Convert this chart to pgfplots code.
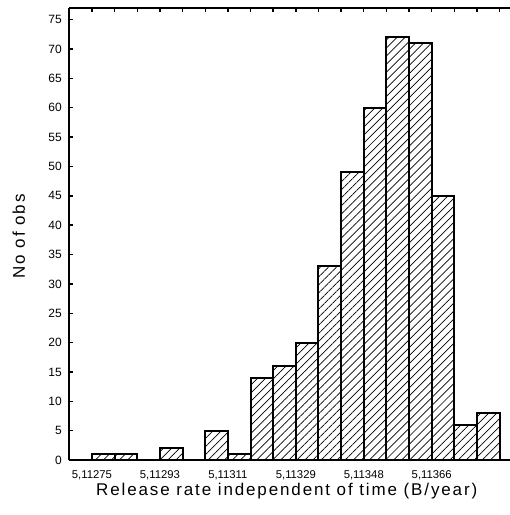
\documentclass[border=0pt]{standalone}
\usepackage{fontspec}
\setmainfont{Liberation Sans}
\newfontfamily\labfont[LetterSpace=11]{Liberation Sans}
\usepackage{pgfplots}
\pgfplotsset{compat=1.18}
\usetikzlibrary{patterns.meta}
\pgfplotstableread{
x y
0.5 0
1.5 1
2.5 1
3.5 0
4.5 2
5.5 0
6.5 5
7.5 1
8.5 14
9.5 16
10.5 20
11.5 33
12.5 49
13.5 60
14.5 72
15.5 71
16.5 45
17.5 6
18.5 8
}\histdata
\begin{document}
\begin{tikzpicture}
\begin{axis}[
  at={(0pt,0pt)}, anchor=south west,
  scale only axis,
  width=444pt, height=452pt,
  xmin=0, xmax=19.6,
  ymin=0, ymax=77,
  axis x line=box, axis y line=left,
  axis line style={-, line width=2.4pt, black},
  xtick={0,...,19},
  xticklabels={{},{5,11275},{},{},{5,11293},{},{},{5,11311},{},{},{5,11329},{},{},{5,11348},{},{},{5,11366},{},{},{}},
  ytick={0,5,...,75},
  tick align=inside,
  major tick length=3.5pt,
  tick style={line width=1.4pt, black},
  /pgf/number format/assume math mode=true,
  xticklabel style={font=\fontsize{11.3}{13}\selectfont},
  yticklabel style={font=\fontsize{12}{14}\selectfont},
  xticklabel shift=7pt,
  yticklabel shift=4pt,
  xlabel={\labfont Release rate independent of time (B/year)},
  xlabel style={at={(axis cs:9.6,0)}, anchor=base, yshift=-35pt, font=\fontsize{17}{20}\selectfont},
  ylabel={\labfont No of obs},
  ylabel style={at={(axis description cs:-0.0998,0.4948)}, anchor=base, rotate=0, font=\fontsize{17}{20}\selectfont},
  clip=false,
]
\addplot[ybar, bar width=1, bar shift=0, draw=black, line width=2pt,
  pattern={Lines[angle=45, distance=5.7pt, line width=0.7pt]}, pattern color=black]
  table[x=x, y=y] {\histdata};
\end{axis}
\pgfresetboundingbox
\useasboundingbox (-69.3pt,-55pt) rectangle (440.7pt,460pt);
\end{tikzpicture}
\end{document}
